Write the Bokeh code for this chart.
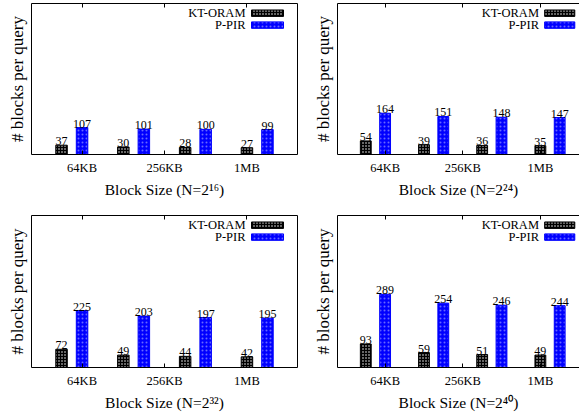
from bokeh.plotting import figure
from bokeh.layouts import row, column
from bokeh.models import (Range1d, LinearAxis, FixedTicker, ColumnDataSource, Label,
                          GlobalInlineStyleSheet)
from bokeh.core.properties import value
from bokeh.transform import dodge
from bokeh.embed import file_html
from bokeh.resources import INLINE

# ---------------- data ----------------
categories = ["64KB", "256KB", "1MB"]
groups = [0, 1, 2, 3]
series_names = ["KT-ORAM", "P-PIR"]
exponents = ["16", "24", "32", "40"]

kt_n16 = [37, 30, 28, 27]
pir_n16 = [107, 101, 100, 99]
kt_n24 = [54, 39, 36, 35]
pir_n24 = [164, 151, 148, 147]
kt_n32 = [72, 49, 44, 42]
pir_n32 = [225, 203, 197, 195]
kt_n40 = [93, 59, 51, 49]
pir_n40 = [289, 254, 246, 244]

# ---------------- layout / style ----------------
FONT = "Liberation Serif"
BLUE = "#0000ff"
Y_MAX = 600
X0, X1 = -0.652, 3.652
FULL_W = 266
TICK_POS = [0.166, 1.5, 2.834]
OFF = 0.166
BAR_W = 0.186
SUP_DIGITS = {"0": "\u2070", "1": "\u00b9", "2": "\u00b2", "3": "\u00b3", "4": "\u2074",
              "5": "\u2075", "6": "\u2076", "7": "\u2077", "8": "\u2078", "9": "\u2079"}


def style_axis(ax):
    ax.axis_line_color = "black"
    ax.axis_line_width = 1
    ax.major_tick_line_color = "black"
    ax.minor_tick_line_color = None
    ax.major_label_text_font = FONT
    ax.major_label_text_color = "black"
    ax.axis_label_text_font = FONT
    ax.axis_label_text_font_style = "normal"
    ax.axis_label_text_color = "black"
    ax.axis_label_text_font_size = "17px"


def make_panel(exp, kt_vals, pir_vals, width, height, bl, br, bt, closed):
    frame_w = width - bl - br
    x_end = X0 + (X1 - X0) * frame_w / FULL_W
    frame_h = height - bt - 45
    upp = Y_MAX / frame_h
    px = (X1 - X0) / FULL_W
    p = figure(width=width, height=height, x_range=Range1d(X0, x_end),
               y_range=Range1d(0, Y_MAX), output_backend="svg", toolbar_location=None,
               min_border_left=bl, min_border_right=br, min_border_top=bt,
               min_border_bottom=45, x_axis_location=None, y_axis_location=None,
               outline_line_color=None, background_fill_color="white",
               border_fill_color="white")
    p.grid.visible = False

    sup = "".join(SUP_DIGITS[d] for d in exp)
    bottom = LinearAxis(ticker=FixedTicker(ticks=TICK_POS),
                        major_label_overrides={t: c for t, c in zip(TICK_POS, categories)},
                        axis_label="Block Size (N=2" + sup + ")")
    style_axis(bottom)
    bottom.axis_label_text_font_size = "15.5px"
    bottom.major_tick_in = 4
    bottom.major_tick_out = 0
    bottom.major_label_text_font_size = "12.5px"
    bottom.major_label_standoff = 6
    bottom.axis_label_standoff = 3
    p.add_layout(bottom, "below")

    top = LinearAxis(ticker=FixedTicker(ticks=TICK_POS))
    style_axis(top)
    top.major_tick_in = 4
    top.major_tick_out = 0
    top.major_label_text_font_size = "1px"
    top.major_label_text_alpha = 0
    top.major_label_standoff = 0
    p.add_layout(top, "above")

    left = LinearAxis(ticker=FixedTicker(ticks=[]), axis_label="# blocks per query")
    style_axis(left)
    left.major_tick_in = 0
    left.major_tick_out = 0
    left.axis_label_standoff = 5
    p.add_layout(left, "left")

    if closed:
        right = LinearAxis(ticker=FixedTicker(ticks=[]))
        style_axis(right)
        right.major_tick_in = 0
        right.major_tick_out = 0
        p.add_layout(right, "right")

    src = ColumnDataSource(dict(g=groups, kt=kt_vals, pir=pir_vals,
                                kt_lbl=[str(v) for v in kt_vals],
                                pir_lbl=[str(v) for v in pir_vals]))
    xk = dodge("g", -OFF, range=p.x_range)
    xp = dodge("g", OFF, range=p.x_range)
    p.vbar(x=xk, top="kt", width=BAR_W, source=src, fill_color="black",
           line_color="black", line_width=1, hatch_pattern="dot",
           hatch_color="white", hatch_scale=3, hatch_weight=1.3)
    p.vbar(x=xp, top="pir", width=BAR_W, source=src, fill_color=BLUE,
           line_color=BLUE, line_width=1, hatch_pattern="dot",
           hatch_color="#6868ff", hatch_scale=4, hatch_weight=1.0)
    for xx, col in ((xk, "kt"), (xp, "pir")):
        p.text(x=xx, y=col, text=col + "_lbl", source=src, text_align="center",
               text_baseline="bottom", y_offset=0, text_font=value(FONT),
               text_font_size="12px", text_color="black")

    # legend (text at left of swatch, gnuplot style)
    tx = X0 + 214 * px
    sx0 = X0 + 220 * px
    sx1 = X0 + 252 * px
    for i, (fc, hc, lc, hs, hw) in enumerate((
            ("black", "white", "black", 3, 1.3),
            (BLUE, "#6868ff", BLUE, 4, 1.0))):
        ty = Y_MAX - (9.7 + 12.3 * i) * upp
        p.add_layout(Label(x=tx, y=ty, text=series_names[i], text_align="right",
                           text_baseline="middle", text_font=FONT,
                           text_font_size="12.5px", text_color="black"))
        p.quad(left=[sx0], right=[sx1], top=[Y_MAX - (6.5 + 12 * i) * upp],
               bottom=[Y_MAX - (13 + 12 * i) * upp], fill_color=fc, line_color=lc,
               hatch_pattern="dot", hatch_color=hc, hatch_scale=hs, hatch_weight=hw)
    return p


p1 = make_panel(exponents[0], kt_n16, pir_n16, 310, 200, 31, 13, 3, True)
p2 = make_panel(exponents[1], kt_n24, pir_n24, 269, 200, 12, 0, 3, False)
p3 = make_panel(exponents[2], kt_n32, pir_n32, 310, 213, 31, 13, 15, True)
p4 = make_panel(exponents[3], kt_n40, pir_n40, 269, 213, 12, 0, 15, False)

layout = column(row(p1, p2, spacing=0), row(p3, p4, spacing=0), spacing=0)
layout.stylesheets = [GlobalInlineStyleSheet(css="html, body { margin: 0 !important; padding: 0; overflow: hidden; }")]

open("out.html", "w").write(file_html(layout, INLINE))
